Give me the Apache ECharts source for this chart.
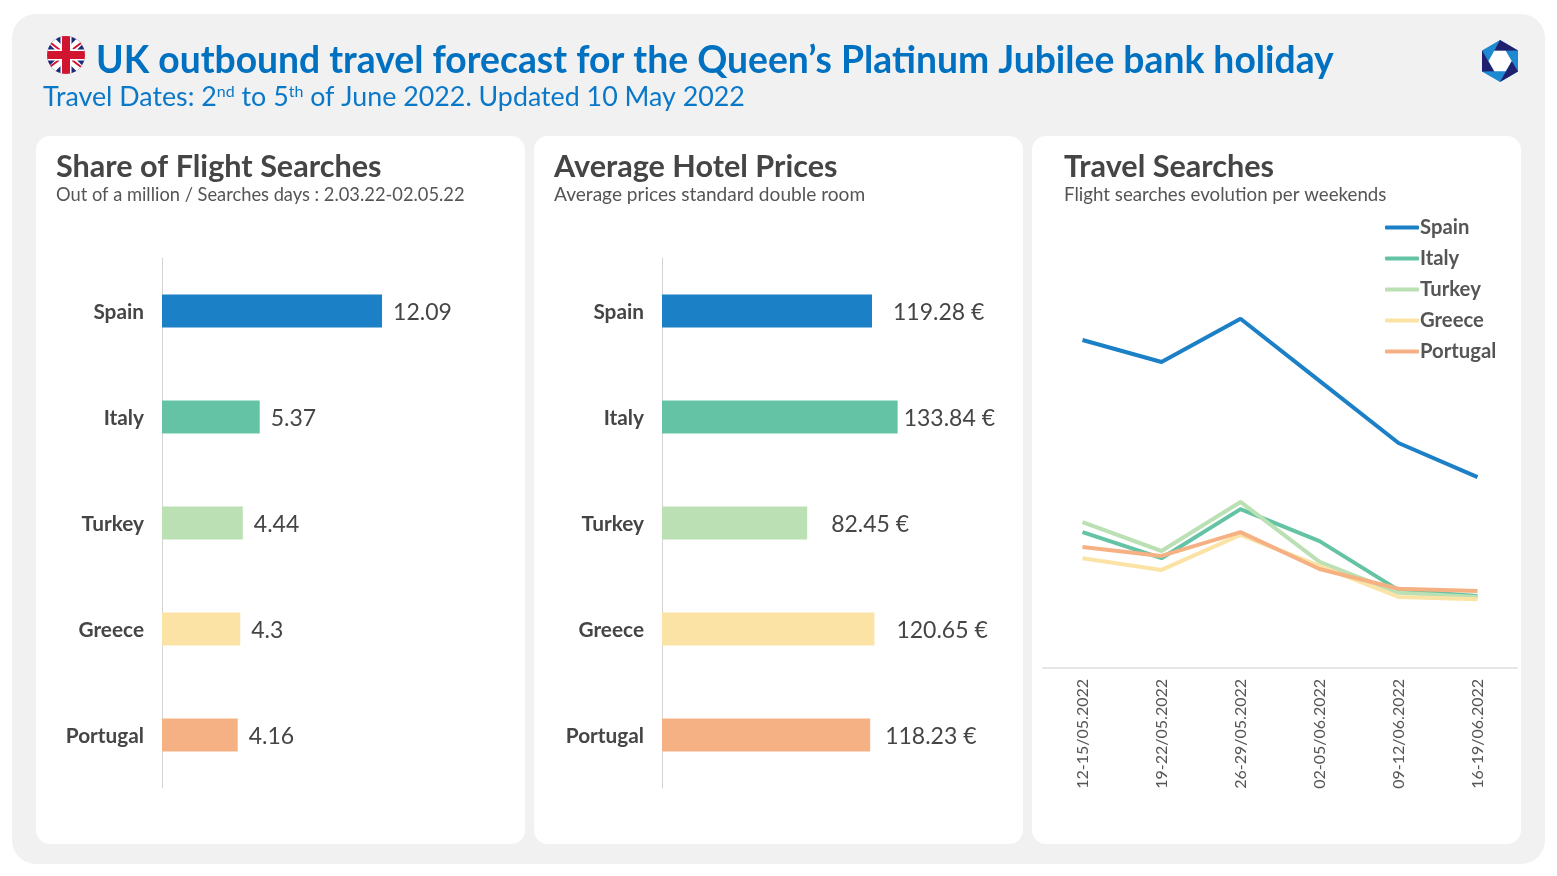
<!DOCTYPE html>
<html>
<head>
<meta charset="utf-8">
<title>UK outbound travel forecast</title>
<style>html,body{margin:0;padding:0;background:#fff}#chart{width:1557px;height:876px}</style>
<script src="https://cdn.jsdelivr.net/npm/echarts@6/dist/echarts.min.js"></script>
</head>
<body>
<div id="chart"></div>
<script>
// Destination names and their shared colours
const countries = ['Spain', 'Italy', 'Turkey', 'Greece', 'Portugal'];
const countryColors = ['#1b80c6', '#64c3a5', '#bbe0b4', '#fbe3a6', '#f5b183'];

// Bar panels
const flightShare = [12.09, 5.37, 4.44, 4.3, 4.16];
const hotelPrices = [119.28, 133.84, 82.45, 120.65, 118.23];
const hotelLabelGaps = [21, 6, 24, 22, 15];

// Weekend search evolution
const weekends = ['12-15/05.2022', '19-22/05.2022', '26-29/05.2022', '02-05/06.2022', '09-12/06.2022', '16-19/06.2022'];
const spainSearches = [72.9, 68.0, 77.6, 63.8, 50.0, 42.4];
const italySearches = [30.2, 24.4, 35.3, 28.2, 17.3, 16.0];
const turkeySearches = [32.4, 26.0, 36.9, 23.6, 16.7, 15.8];
const greeceSearches = [24.4, 21.8, 29.6, 22.7, 15.8, 15.3];
const portugalSearches = [26.9, 24.9, 30.2, 22.0, 17.6, 17.1];
const searchSeries = [spainSearches, italySearches, turkeySearches, greeceSearches, portugalSearches];

const FONT = 'Lato, "Noto Sans", sans-serif';
const INK = '#454545';

const flagSvg = `<svg xmlns="http://www.w3.org/2000/svg" width="76" height="76" viewBox="0 0 38 38">
<defs><clipPath id="c"><circle cx="19" cy="19" r="19"/></clipPath></defs>
<g clip-path="url(#c)"><rect width="38" height="38" fill="#1d2a78"/>
<path d="M0 0L38 38M38 0L0 38" stroke="#fff" stroke-width="8"/>
<path d="M0 4L13 14M38 4L26 13M0 33L12 24M38 34L25 24" stroke="#d2152f" stroke-width="2"/>
<rect x="13.5" width="11" height="38" fill="#fff"/><rect y="13.5" width="38" height="11" fill="#fff"/>
<rect x="15" width="8" height="38" fill="#d2152f"/><rect y="15" width="38" height="8" fill="#d2152f"/></g></svg>`;

const logoSvg = `<svg xmlns="http://www.w3.org/2000/svg" width="72" height="84" viewBox="0 0 36 42">
<polygon points="18,0 36,10.5 36,31.5 18,42 0,31.5 0,10.5" fill="#1e88d0"/>
<polygon points="18,0 36,10.5 12.3,10.7" fill="#20206e"/>
<polygon points="0,10.5 0,31.5 12.3,31.3" fill="#20206e"/>
<polygon points="36,31.5 18,42 29.7,21" fill="#20206e"/>
<polygon points="6.5,21 12.3,10.7 23.7,10.7 29.7,21 23.7,31.3 12.3,31.3" fill="#fff"/></svg>`;
const asDataUrl = svg => 'data:image/svg+xml;charset=utf-8,' + encodeURIComponent(svg);

const card = x => ({
  type: 'rect', z: -5, shape: { x, y: 136, width: 489, height: 708, r: 14 }, style: { fill: '#fff' }
});

const cardTitle = (left, text, sub, subSize, subTop) => [
  { left, top: 152, padding: 0, text, textStyle: { fontFamily: FONT, fontSize: 30.6, fontWeight: 700, color: INK } },
  { left, top: subTop, padding: 0, text: sub, textStyle: { fontFamily: FONT, fontSize: subSize, fontWeight: 400, color: '#555' } }
];

const barGrid = (left, width, top) => ({ left, width, top, height: 530 });

const barXAxis = (gridIndex, max) => ({
  type: 'value', gridIndex, min: 0, max, show: false
});
const barYAxis = gridIndex => ({
  type: 'category', gridIndex, data: countries, inverse: true,
  axisLine: { show: true, lineStyle: { color: '#d4d4d4', width: 1 } },
  axisTick: { show: false },
  axisLabel: {
    margin: 18,
    formatter: '{name|{value}}',
    rich: { name: { fontFamily: FONT, fontSize: 20.8, fontWeight: 700, color: INK, padding: [3, 0, 0, 0] } }
  }
});

const barData = (values, gaps, suffix) => values.map((value, i) => ({
  value,
  itemStyle: { color: countryColors[i] },
  label: { distance: gaps ? gaps[i] : 11, formatter: () => value + suffix }
}));

const barSeries = (index, values, gaps, suffix) => ({
  type: 'bar', xAxisIndex: index, yAxisIndex: index, barWidth: 33,
  data: barData(values, gaps, suffix), legendHoverLink: false, silent: true,
  label: { show: true, position: 'right', offset: [0, 1.5], fontFamily: FONT, fontSize: 23, color: INK }
});

const option = {
  animation: false,
  backgroundColor: '#fff',
  title: [
    { left: 96, top: 42, padding: 0, text: 'UK outbound travel forecast for the Queen\u2019s Platinum Jubilee bank holiday',
      textStyle: { fontFamily: FONT, fontSize: 37.25, fontWeight: 700, color: '#0070c0' } },
    { left: 43, top: 84, padding: 0,
      text: '{m|Travel Dates: 2}{s|nd}{m| to 5}{s|th}{m| of June 2022. Updated 10 May 2022}',
      textStyle: { rich: {
        m: { fontFamily: FONT, fontSize: 26.8, fontWeight: 400, color: '#0a78c8' },
        s: { fontFamily: FONT, fontSize: 16, fontWeight: 400, color: '#0a78c8', verticalAlign: 'top' }
      } } },
    ...cardTitle(56, 'Share of Flight Searches', 'Out of a million / Searches days : 2.03.22-02.05.22', 18.3, 186),
    ...cardTitle(554, 'Average Hotel Prices', 'Average prices standard double room', 19.1, 185),
    ...cardTitle(1064, 'Travel Searches', 'Flight searches evolution per weekends', 18.7, 185)
  ],
  graphic: [
    { type: 'rect', z: -10, shape: { x: 12, y: 14, width: 1533, height: 850, r: 24 }, style: { fill: '#f1f1f2' } },
    card(36), card(534), card(1032),
    { type: 'image', z: -4, style: { image: asDataUrl(flagSvg), x: 47, y: 36, width: 38, height: 38 } },
    { type: 'image', z: -4, style: { image: asDataUrl(logoSvg), x: 1482, y: 40, width: 36, height: 42 } }
  ],
  legend: {
    orient: 'vertical', left: 1380, top: 211, itemWidth: 34, itemHeight: 4, itemGap: 8,
    data: countries, selectedMode: false, icon: 'roundRect',
    textStyle: { fontFamily: FONT, fontSize: 20.3, fontWeight: 700, color: '#555', padding: [0, 0, 0, -4], lineHeight: 23 }
  },
  grid: [
    barGrid(162, 340, 258),
    barGrid(662, 340, 258),
    { left: 1043, width: 474, top: 218, height: 450 }
  ],
  xAxis: [
    barXAxis(0, 340 / 18.2),
    barXAxis(1, 340 / 1.7606),
    { type: 'category', gridIndex: 2, data: weekends, boundaryGap: true,
      axisLine: { lineStyle: { color: '#e6e6e6', width: 2 } }, axisTick: { show: false },
      axisLabel: { rotate: 90, margin: 11, interval: 0, fontFamily: FONT, fontSize: 16, color: '#555' } }
  ],
  yAxis: [
    barYAxis(0),
    barYAxis(1),
    { type: 'value', gridIndex: 2, min: 0, max: 100, show: false }
  ],
  series: [
    barSeries(0, flightShare, null, ''),
    barSeries(1, hotelPrices, hotelLabelGaps, ' \u20ac'),
    ...countries.map((name, i) => ({
      name, type: 'line', xAxisIndex: 2, yAxisIndex: 2, data: searchSeries[i],
      symbol: 'none', silent: true, z: 3 + i,
      lineStyle: { color: countryColors[i], width: 4 },
      itemStyle: { color: countryColors[i] }
    }))
  ]
};

const chart = echarts.init(document.getElementById('chart'), null, { renderer: 'canvas' });
chart.setOption(option);
</script>
</body>
</html>
